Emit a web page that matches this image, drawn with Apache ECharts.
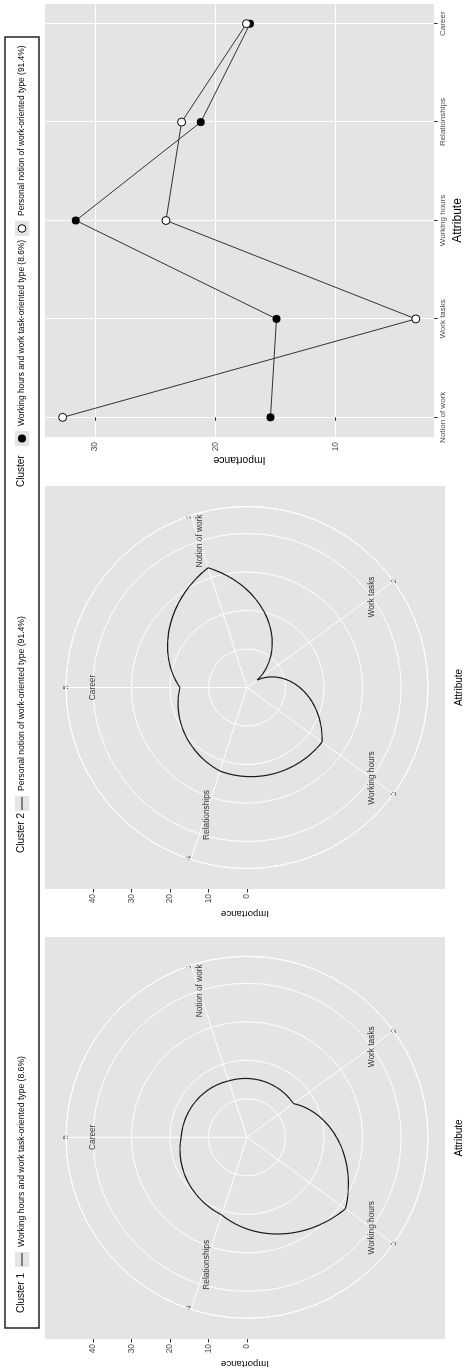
<!DOCTYPE html>
<html>
<head>
<meta charset="utf-8">
<script src="https://cdn.jsdelivr.net/npm/echarts@6/dist/echarts.min.js"></script>
<style>
  html, body { margin: 0; padding: 0; background: #fff; overflow: hidden; }
  #wrap { position: relative; width: 469px; height: 1372px; }
  /* the figure is landscape, turned a quarter turn so the text reads upwards */
  #chart {
    position: absolute; left: 0; top: 0;
    width: 1372px; height: 469px;
    transform-origin: 0 0;
    transform: translate(0, 1372px) rotate(-90deg);
  }
</style>
</head>
<body>
<div id="wrap"><div id="chart"></div></div>
<script>
const categories = ['Notion of work', 'Work tasks', 'Working hours', 'Relationships', 'Career']
const thetaPos = [1, 2, 3, 4, 5]
const cluster1 = [15.4, 14.9, 31.6, 21.2, 17.1]
const cluster2 = [32.7, 3.3, 24.1, 22.8, 17.4]
const name1 = 'Working hours and work task-oriented type (8.6%)'
const name2 = 'Personal notion of work-oriented type (91.4%)'
const radiusTicks = [0, 10, 20, 30, 40]
const lineTicks = [10, 20, 30]
const nameRadius = 40

const FONT = '"Liberation Sans", Arial, sans-serif'
const PANEL = '#e4e4e4'
const TICK_TXT = '#4d4d4d'

function keyIcon(inner) {
  const svg = '<svg xmlns="http://www.w3.org/2000/svg" width="15" height="15">' +
    '<rect width="15" height="15" fill="' + PANEL + '"/>' + inner + '</svg>'
  return 'image://data:image/svg+xml;charset=utf-8,' + encodeURIComponent(svg)
}
const keyLine = keyIcon('<line x1="1" y1="7.5" x2="14" y2="7.5" stroke="#1a1a1a" stroke-width="1"/>')
const keyFilled = keyIcon('<circle cx="7.5" cy="7.5" r="4" fill="#000"/>')
const keyOpen = keyIcon('<circle cx="7.5" cy="7.5" r="3.8" fill="#fff" stroke="#000" stroke-width="1"/>')

// path in polar coords: radius changes linearly with angle between two attributes
function curveItem(vals) {
  return function (params, api) {
    const i = params.dataIndex
    const j = (i + 1) % vals.length
    const r0 = api.value(0)
    const t0 = api.value(1)
    const r1 = vals[j]
    const t1 = thetaPos[j] + (j === 0 ? 5 : 0)
    const points = []
    for (let k = 0; k <= 40; k++) {
      const f = k / 40
      const p = api.coord([r0 + (r1 - r0) * f, t0 + (t1 - t0) * f])
      points.push([p[0], p[1]])
    }
    return {
      type: 'polyline',
      shape: { points: points },
      style: { stroke: '#1a1a1a', lineWidth: 1.2, fill: null }
    }
  }
}

function polarAxes(idx) {
  return {
    radius: {
      polarIndex: idx, type: 'value', min: 0, max: 47, interval: 10,
      axisLine: { show: false }, axisTick: { show: false }, axisLabel: { show: false },
      splitLine: { show: true, lineStyle: { color: '#fff', width: 1 } },
      z: 1
    },
    angle: {
      polarIndex: idx, type: 'value', min: 0, max: 5, interval: 1,
      startAngle: 90, clockwise: true,
      axisLine: { show: true, lineStyle: { color: '#fff', width: 1 } },
      axisTick: { show: false },
      axisLabel: {
        show: true, margin: -4, color: TICK_TXT, fontSize: 8, fontFamily: FONT,
        formatter: v => String(v === 0 ? 5 : v)
      },
      splitLine: { show: true, lineStyle: { color: '#fff', width: 1 } },
      z: 1
    }
  }
}
const pa0 = polarAxes(0)
const pa1 = polarAxes(1)

function bgAxes(gi) {
  return {
    x: {
      gridIndex: gi, type: 'value', min: 0, max: 1,
      axisLine: { show: false }, axisTick: { show: false }, axisLabel: { show: false }, splitLine: { show: false },
      name: 'Attribute', nameLocation: 'middle', nameGap: 9,
      nameTextStyle: { color: '#000', fontSize: 10, fontFamily: FONT }
    },
    y: {
      gridIndex: gi, type: 'value', min: 0, max: 1,
      axisLine: { show: false }, axisTick: { show: false }, axisLabel: { show: false }, splitLine: { show: false },
      name: 'Importance', nameLocation: 'middle', nameGap: 20, nameRotate: 90,
      nameTextStyle: { color: '#000', fontSize: 9.6, fontFamily: FONT }
    }
  }
}
function impAxes(gi) {
  return {
    x: { gridIndex: gi, type: 'value', show: false },
    y: {
      gridIndex: gi, type: 'value', min: 0, max: 40, interval: 10,
      axisLine: { show: false },
      axisTick: { show: true, length: 3.5, lineStyle: { color: '#333' } },
      axisLabel: { margin: 5, color: TICK_TXT, fontSize: 8.4, fontFamily: FONT },
      splitLine: { show: false }
    }
  }
}
const bg0 = bgAxes(0), imp0 = impAxes(1), bg1 = bgAxes(2), imp1 = impAxes(3)

function nameLabels(pi) {
  return {
    type: 'scatter', coordinateSystem: 'polar', polarIndex: pi,
    symbolSize: 0.1, itemStyle: { color: 'transparent' }, silent: true,
    data: categories.map((c, i) => ({
      name: c,
      value: [nameRadius, thetaPos[i]],
      label: i === 3 ? { offset: [19, 7] } : undefined
    })),
    label: { show: true, position: 'inside', formatter: '{b}', color: '#000', fontSize: 8.3, fontFamily: FONT }
  }
}

const chart = echarts.init(document.getElementById('chart'))
chart.setOption({
  animation: false,
  backgroundColor: '#fff',
  textStyle: { fontFamily: FONT },
  title: [
    { text: 'Cluster 1', left: 59, top: 16, padding: 0, textStyle: { fontSize: 10, fontWeight: 'normal', color: '#000' } },
    { text: 'Cluster 2', left: 519, top: 16, padding: 0, textStyle: { fontSize: 10, fontWeight: 'normal', color: '#000' } },
    { text: 'Cluster', left: 885, top: 16, padding: 0, textStyle: { fontSize: 10, fontWeight: 'normal', color: '#000' } }
  ],
  legend: [
    {
      data: [{ name: name1, icon: keyLine }], left: 105, top: 14.5, padding: 0,
      itemWidth: 15, itemHeight: 15, selectedMode: false,
      textStyle: { fontSize: 8.6, color: '#000' }
    },
    {
      data: [{ name: name2, icon: keyLine }], left: 561, top: 14.5, padding: 0,
      itemWidth: 15, itemHeight: 15, selectedMode: false,
      textStyle: { fontSize: 8.6, color: '#000' }
    },
    {
      data: [{ name: name1, icon: keyFilled }, { name: name2, icon: keyOpen }],
      left: 926, top: 14.5, padding: 0, itemGap: 4,
      itemWidth: 15, itemHeight: 15, selectedMode: false,
      textStyle: { fontSize: 8.4, color: '#000' }
    }
  ],
  graphic: [{
    type: 'rect', silent: true,
    shape: { x: 44, y: 5, width: 1291, height: 34 },
    style: { fill: 'none', stroke: '#222', lineWidth: 1.5 }
  }],
  grid: [
    { left: 33, top: 45, width: 402, height: 403, show: true, backgroundColor: PANEL, borderWidth: 0 },
    { left: 33, top: 93, width: 402, height: 154, show: false },
    { left: 483, top: 45, width: 403, height: 403, show: true, backgroundColor: PANEL, borderWidth: 0 },
    { left: 483, top: 93, width: 403, height: 154, show: false },
    { left: 935, top: 45, width: 433, height: 397, show: true, backgroundColor: PANEL, borderWidth: 0 }
  ],
  xAxis: [bg0.x, imp0.x, bg1.x, imp1.x, {
    gridIndex: 4, type: 'value', min: -0.2, max: 4.2,
    axisLine: { show: false },
    axisTick: { show: true, length: 3.5, lineStyle: { color: '#333' }, customValues: [0, 1, 2, 3, 4] },
    axisLabel: {
      customValues: [0, 1, 2, 3, 4], margin: 5, color: TICK_TXT, fontSize: 8, fontFamily: FONT,
      formatter: v => categories[v]
    },
    splitLine: { show: true, lineStyle: { color: '#fff', width: 1 } },
    name: 'Attribute', nameLocation: 'middle', nameGap: 13,
    nameTextStyle: { color: '#000', fontSize: 12, fontFamily: FONT }
  }],
  yAxis: [bg0.y, imp0.y, bg1.y, imp1.y, {
    gridIndex: 4, type: 'value', min: 1.78, max: 34.17,
    axisLine: { show: false },
    axisTick: { show: true, length: 3.5, lineStyle: { color: '#333' }, customValues: lineTicks },
    axisLabel: { customValues: lineTicks, margin: 5, color: TICK_TXT, fontSize: 8.4, fontFamily: FONT },
    splitLine: { show: true, lineStyle: { color: '#fff', width: 1 } },
    name: 'Importance', nameLocation: 'middle', nameGap: 18, nameRotate: 90,
    nameTextStyle: { color: '#000', fontSize: 10.4, fontFamily: FONT }
  }],
  polar: [
    { center: [234.7, 247], radius: 181 },
    { center: [684.5, 247], radius: 181 }
  ],
  radiusAxis: [pa0.radius, pa1.radius],
  angleAxis: [pa0.angle, pa1.angle],
  series: [
    {
      name: name1, type: 'custom', coordinateSystem: 'polar', polarIndex: 0,
      renderItem: curveItem(cluster1),
      data: categories.map((c, i) => [cluster1[i], thetaPos[i]])
    },
    nameLabels(0),
    {
      name: name2, type: 'custom', coordinateSystem: 'polar', polarIndex: 1,
      renderItem: curveItem(cluster2),
      data: categories.map((c, i) => [cluster2[i], thetaPos[i]])
    },
    nameLabels(1),
    {
      name: name1, type: 'line', xAxisIndex: 4, yAxisIndex: 4,
      data: categories.map((c, i) => [i, cluster1[i]]),
      symbol: 'circle', symbolSize: 8,
      itemStyle: { color: '#000' },
      lineStyle: { color: '#333', width: 1 }
    },
    {
      name: name2, type: 'line', xAxisIndex: 4, yAxisIndex: 4,
      data: categories.map((c, i) => [i, cluster2[i]]),
      symbol: 'circle', symbolSize: 8,
      itemStyle: { color: '#fff', borderColor: '#000', borderWidth: 1 },
      lineStyle: { color: '#333', width: 1 }
    }
  ]
})
</script>
</body>
</html>
